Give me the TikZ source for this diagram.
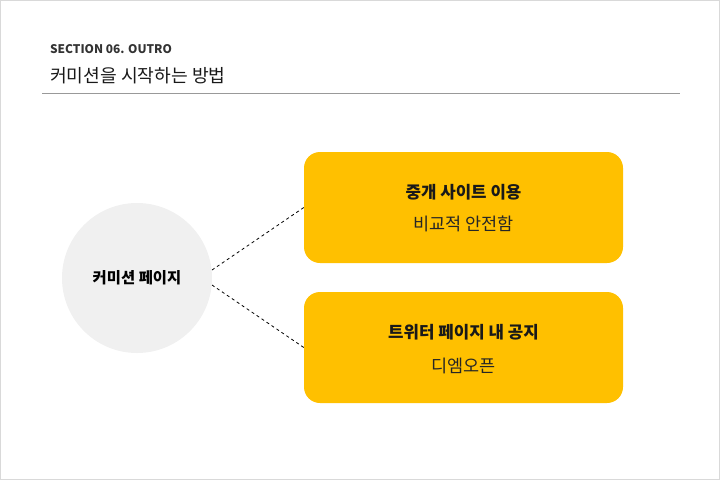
\documentclass[tikz,border=0pt]{standalone}
\usepackage{fontspec}
\setmainfont{Noto Sans CJK KR}
\begin{document}
\begin{tikzpicture}[x=1pt,y=-1pt,
  card/.style={rounded corners=16pt, minimum width=319pt, minimum height=111pt, inner sep=0pt},
  ttl/.style={font=\fontsize{16.8}{20}\selectfont\bfseries, text=black!90},
  sub/.style={font=\fontsize{17.5}{20}\selectfont, text=black!85},
  dashline/.style={dashed, line width=0.8pt, black}]
\definecolor{amber}{HTML}{FFC000}
\useasboundingbox (0,0) rectangle (720,480);
\draw[black!15, line width=1pt] (0.5,0.5) rectangle (719.5,479.5);
\node[anchor=west, font=\fontsize{11.9}{14}\selectfont\bfseries, text=black!80] (sec) at (46.5,49) {SECTION 06. OUTRO};
\node[anchor=west, font=\fontsize{18.2}{21}\selectfont, text=black!90] (title) at (46.5,76) {커미션을 시작하는 방법};
\draw[black!40, line width=1pt] (42,93) -- (680,93);
\node[circle, fill=black!6, minimum size=150pt, inner sep=0pt, font=\fontsize{15.4}{18}\selectfont\bfseries] (c) at (137,278) {커미션 페이지};
\node[card, fill=amber] (b1) at (463.5,207.5) {};
\node[card, fill=amber] (b2) at (463.5,347.5) {};
\node[ttl] (t1) at (463.5,192) {중개 사이트 이용};
\node[sub] (s1) at (463.5,224) {비교적 안전함};
\node[ttl] (t2) at (463.5,332) {트위터 페이지 내 공지};
\node[sub] (s2) at (463.5,366) {디엠오픈};
\coordinate (p1) at (212,270);
\coordinate (p2) at (212,285);
\draw[dashline] (p1) -- (b1.west);
\draw[dashline] (p2) -- (b2.west);
\end{tikzpicture}
\end{document}
